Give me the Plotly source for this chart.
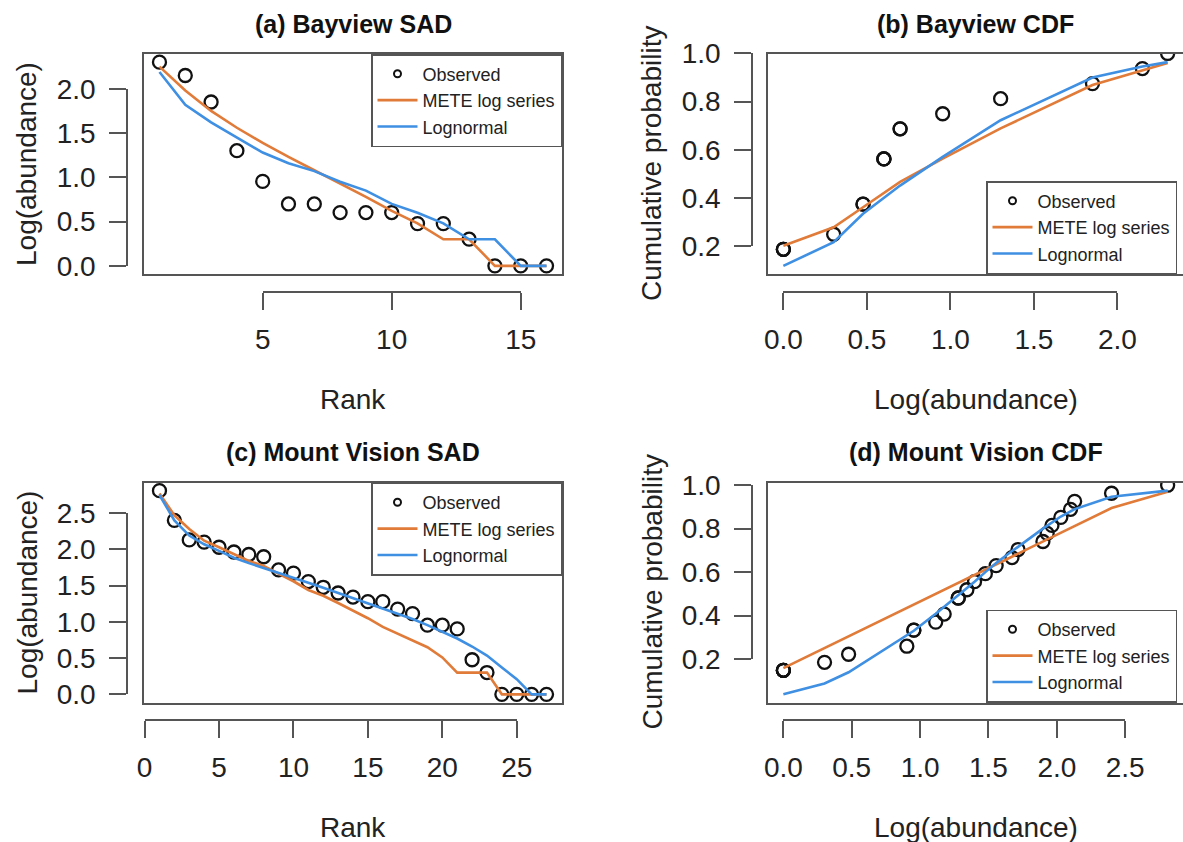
import plotly.graph_objects as go

W, H = 1183, 842
FONT = "Liberation Sans, Arial, Helvetica, sans-serif"
ORANGE = "#E07B39"
BLUE = "#3F8FE3"
AXCOL = "#555555"
TXT = "#222222"

# ---------------- data ----------------
# (a) Bayview SAD
bay_rank = list(range(1, 17))
bay_obs = [2.301, 2.150, 1.851, 1.301, 0.954, 0.699, 0.699, 0.602, 0.602, 0.602,
           0.477, 0.477, 0.301, 0.0, 0.0, 0.0]
bay_mete = [2.25, 1.98, 1.75, 1.56, 1.39, 1.23, 1.08, 0.93, 0.78, 0.62,
            0.48, 0.30, 0.30, 0.0, 0.0, 0.0]
bay_logn = [2.19, 1.82, 1.62, 1.45, 1.28, 1.16, 1.07, 0.95, 0.85, 0.70,
            0.60, 0.48, 0.30, 0.30, 0.0, 0.0]

# (b) Bayview CDF
bay_cdf_obs_x = [0.0, 0.0, 0.0, 0.301, 0.477, 0.477, 0.602, 0.602, 0.602, 0.699,
                 0.699, 0.954, 1.301, 1.851, 2.150, 2.301]
bay_cdf_obs_y = [0.1875, 0.1875, 0.1875, 0.25, 0.375, 0.375, 0.5625, 0.5625, 0.5625,
                 0.6875, 0.6875, 0.75, 0.8125, 0.875, 0.9375, 1.0]
bay_cdf_x = [0.0, 0.301, 0.477, 0.602, 0.699, 0.954, 1.301, 1.851, 2.150, 2.301]
bay_cdf_mete = [0.2025, 0.279, 0.362, 0.420, 0.467, 0.564, 0.689, 0.869, 0.930, 0.960]
bay_cdf_logn = [0.119, 0.217, 0.335, 0.400, 0.452, 0.571, 0.723, 0.900, 0.946, 0.964]

# (c) Mount Vision SAD
mv_rank = list(range(1, 28))
mv_obs = [2.810, 2.400, 2.130, 2.100, 2.029, 1.964, 1.929, 1.898, 1.716, 1.672,
          1.556, 1.477, 1.398, 1.342, 1.279, 1.279, 1.176, 1.114, 0.954, 0.954,
          0.903, 0.477, 0.301, 0.0, 0.0, 0.0, 0.0]
mv_mete = [2.77, 2.47, 2.28, 2.12, 2.03, 1.93, 1.84, 1.77, 1.67, 1.56,
           1.44, 1.36, 1.26, 1.16, 1.05, 0.93, 0.84, 0.745, 0.65, 0.51,
           0.30, 0.30, 0.30, 0.0, 0.0, 0.0, 0.0]
mv_logn = [2.75, 2.40, 2.19, 2.07, 1.98, 1.885, 1.81, 1.745, 1.675, 1.61,
           1.54, 1.47, 1.40, 1.33, 1.26, 1.19, 1.12, 1.04, 0.955, 0.86,
           0.77, 0.66, 0.535, 0.37, 0.21, 0.0, 0.0]

# (d) Mount Vision CDF
mv_cdf_obs_x = [0.0, 0.0, 0.0, 0.0, 0.301, 0.477, 0.903, 0.954, 0.954, 1.114,
                1.176, 1.279, 1.279, 1.342, 1.398, 1.477, 1.556, 1.672, 1.716, 1.898,
                1.929, 1.964, 2.029, 2.100, 2.130, 2.400, 2.810]
mv_cdf_obs_y = [0.148, 0.148, 0.148, 0.148, 0.185, 0.222, 0.259, 0.333, 0.333, 0.370,
                0.407, 0.481, 0.481, 0.519, 0.556, 0.593, 0.630, 0.667, 0.704, 0.741,
                0.778, 0.815, 0.852, 0.889, 0.926, 0.963, 1.0]
mv_cdf_x = [0.0, 0.301, 0.477, 0.903, 0.954, 1.114, 1.176, 1.279, 1.342, 1.398,
            1.477, 1.556, 1.672, 1.716, 1.898, 1.929, 1.964, 2.029, 2.100, 2.130,
            2.400, 2.810]
mv_cdf_mete = [0.158, 0.250, 0.305, 0.435, 0.450, 0.500, 0.520, 0.550, 0.570, 0.585,
               0.610, 0.635, 0.670, 0.685, 0.740, 0.750, 0.760, 0.780, 0.800, 0.810,
               0.895, 0.970]
mv_cdf_logn = [0.0375, 0.0875, 0.139, 0.306, 0.330, 0.408, 0.440, 0.494, 0.525, 0.556,
               0.600, 0.642, 0.697, 0.716, 0.800, 0.814, 0.830, 0.856, 0.880, 0.890,
               0.947, 0.975]

legend_names = ["Observed", "METE log series", "Lognormal"]

# ---------------- layout helpers ----------------
def fx(px):
    return px / W


def fy(py):
    return 1 - py / H


def ext(lo, hi):
    d = (hi - lo) * 0.04
    return [lo - d, hi + d]


panels = [
    dict(title="(a) Bayview SAD", box=(144, 562, 54, 274),
         xr=ext(min(bay_rank), max(bay_rank)), yr=ext(0, max(bay_obs)),
         xticks=[5, 10, 15], xfmt="d", yticks=[0, 0.5, 1.0, 1.5, 2.0],
         xline=292, yline=127, xlab="Rank", ylab="Log(abundance)",
         ox=bay_rank, oy=bay_obs, lx=bay_rank, mete=bay_mete, logn=bay_logn,
         leg="tr", right=True),
    dict(title="(b) Bayview CDF", box=(768, 1183, 54, 274),
         xr=ext(0, max(bay_cdf_x)),
         yr=ext(min(bay_cdf_logn + bay_cdf_mete), max(bay_cdf_logn + bay_cdf_mete)),
         xticks=[0, 0.5, 1.0, 1.5, 2.0], xfmt=".1f", yticks=[0.2, 0.4, 0.6, 0.8, 1.0],
         xline=292, yline=752, xlab="Log(abundance)", ylab="Cumulative probability",
         ox=bay_cdf_obs_x, oy=bay_cdf_obs_y, lx=bay_cdf_x, mete=bay_cdf_mete,
         logn=bay_cdf_logn, leg="br", right=False),
    dict(title="(c) Mount Vision SAD", box=(144, 562, 482.5, 702.5),
         xr=ext(min(mv_rank), max(mv_rank)), yr=ext(0, max(mv_obs)),
         xticks=[0, 5, 10, 15, 20, 25], xfmt="d", yticks=[0, 0.5, 1.0, 1.5, 2.0, 2.5],
         xline=720, yline=127, xlab="Rank", ylab="Log(abundance)",
         ox=mv_rank, oy=mv_obs, lx=mv_rank, mete=mv_mete, logn=mv_logn,
         leg="tr", right=True),
    dict(title="(d) Mount Vision CDF", box=(768, 1183, 482.5, 702.5),
         xr=ext(0, max(mv_cdf_x)),
         yr=ext(min(mv_cdf_logn + mv_cdf_mete), max(mv_cdf_logn + mv_cdf_mete)),
         xticks=[0, 0.5, 1.0, 1.5, 2.0, 2.5], xfmt=".1f", yticks=[0.2, 0.4, 0.6, 0.8, 1.0],
         xline=720, yline=752, xlab="Log(abundance)", ylab="Cumulative probability",
         ox=mv_cdf_obs_x, oy=mv_cdf_obs_y, lx=mv_cdf_x, mete=mv_cdf_mete,
         logn=mv_cdf_logn, leg="br", right=False),
]

fig = go.Figure()
layout = dict(width=W, height=H, margin=dict(l=0, r=0, t=0, b=0, autoexpand=False),
              paper_bgcolor="white", plot_bgcolor="rgba(0,0,0,0)",
              font=dict(family=FONT, color=TXT), showlegend=True)
annotations = []

for i, p in enumerate(panels, start=1):
    x0, x1, y0, y1 = p["box"]
    xr, yr = p["xr"], p["yr"]
    sfx = "" if i == 1 else str(i)
    legkey = "legend" if i == 1 else "legend%d" % i

    def dx(v, x0=x0, x1=x1, xr=xr):
        return x0 + (v - xr[0]) / (xr[1] - xr[0]) * (x1 - x0)

    def dy(v, y0=y0, y1=y1, yr=yr):
        return y1 - (v - yr[0]) / (yr[1] - yr[0]) * (y1 - y0)

    # main (box) axes
    layout["xaxis" + sfx] = dict(domain=[fx(x0), fx(x1)], range=xr, anchor="y" + sfx,
                                 showline=True, mirror=True, linecolor=AXCOL, linewidth=1.6,
                                 showticklabels=False, ticks="", showgrid=False,
                                 zeroline=False, automargin=False)
    layout["yaxis" + sfx] = dict(domain=[fy(y1), fy(y0)], range=yr, anchor="x" + sfx,
                                 showline=True, mirror=p["right"], linecolor=AXCOL,
                                 linewidth=1.6, showticklabels=False, ticks="",
                                 showgrid=False, zeroline=False, automargin=False)
    # detached R-style axes
    xt = p["xticks"]
    fxid, fyid = i + 4, i + 4
    layout["xaxis%d" % fxid] = dict(
        anchor="free", position=fy(p["xline"]), domain=[fx(dx(xt[0])), fx(dx(xt[-1]))],
        range=[xt[0], xt[-1]], tickvals=xt, tickformat=p["xfmt"], showline=True,
        linecolor=AXCOL, linewidth=1.6, ticks="outside", ticklen=17, tickwidth=1.6,
        tickcolor=AXCOL, showgrid=False, zeroline=False, ticklabelstandoff=6,
        automargin=False, tickfont=dict(size=28, color=TXT, family=FONT))
    yt = p["yticks"]
    layout["yaxis%d" % fyid] = dict(
        anchor="free", position=fx(p["yline"]), domain=[fy(dy(yt[0])), fy(dy(yt[-1]))],
        range=[yt[0], yt[-1]], tickvals=yt, tickformat=".1f", showline=True,
        linecolor=AXCOL, linewidth=1.6, ticks="outside", ticklen=17, tickwidth=1.6,
        tickcolor=AXCOL, showgrid=False, zeroline=False, ticklabelstandoff=8,
        automargin=False, tickfont=dict(size=28, color=TXT, family=FONT))

    xa, ya = "x" + sfx, "y" + sfx
    # empty traces so that the detached axes are laid out and drawn
    fig.add_trace(go.Scatter(x=[None], y=[None], xaxis="x%d" % fxid, yaxis=ya,
                             showlegend=False, hoverinfo="skip", mode="markers"))
    fig.add_trace(go.Scatter(x=[None], y=[None], xaxis=xa, yaxis="y%d" % fyid,
                             showlegend=False, hoverinfo="skip", mode="markers"))

    # data traces
    fig.add_trace(go.Scatter(x=p["ox"], y=p["oy"], mode="markers", xaxis=xa, yaxis=ya,
                             marker=dict(symbol="circle-open", size=13, color="#111111",
                                         line=dict(width=2.3)),
                             showlegend=False, name="Observed"))
    fig.add_trace(go.Scatter(x=[None], y=[None], mode="markers", xaxis=xa, yaxis=ya,
                             marker=dict(symbol="circle-open", size=7, color="#111111",
                                         line=dict(width=2)),
                             name=legend_names[0], legend=legkey))
    fig.add_trace(go.Scatter(x=p["lx"], y=p["mete"], mode="lines", xaxis=xa, yaxis=ya,
                             line=dict(color=ORANGE, width=2.6),
                             name=legend_names[1], legend=legkey))
    fig.add_trace(go.Scatter(x=p["lx"], y=p["logn"], mode="lines", xaxis=xa, yaxis=ya,
                             line=dict(color=BLUE, width=2.6),
                             name=legend_names[2], legend=legkey))

    legd = dict(bgcolor="white", bordercolor=AXCOL, borderwidth=1.5,
                font=dict(size=18, color=TXT, family=FONT), tracegroupgap=0,
                itemwidth=40)
    if p["leg"] == "tr":
        legd.update(x=fx(x1), y=fy(y0), xanchor="right", yanchor="top")
    else:
        legd.update(x=fx(986), y=fy(y1), xanchor="left", yanchor="bottom")
    layout[legkey] = legd

    # titles
    cx = (x0 + 1184) / 2 if not p["right"] else (x0 + x1) / 2
    annotations.append(dict(text="<b>%s</b>" % p["title"], x=fx(cx), y=fy(y0 - 30),
                            xref="paper", yref="paper", showarrow=False,
                            xanchor="center", yanchor="middle",
                            font=dict(size=25, color="#111111", family=FONT)))
    annotations.append(dict(text=p["xlab"], x=fx(cx), y=fy(y1 + 125),
                            xref="paper", yref="paper", showarrow=False,
                            xanchor="center", yanchor="middle",
                            font=dict(size=28, color=TXT, family=FONT)))
    annotations.append(dict(text=p["ylab"], x=fx(p["yline"] - 100), y=fy((y0 + y1) / 2),
                            xref="paper", yref="paper", showarrow=False, textangle=-90,
                            xanchor="center", yanchor="middle",
                            font=dict(size=28, color=TXT, family=FONT)))

layout["annotations"] = annotations
fig.update_layout(**layout)
fig.write_html("out.html")
